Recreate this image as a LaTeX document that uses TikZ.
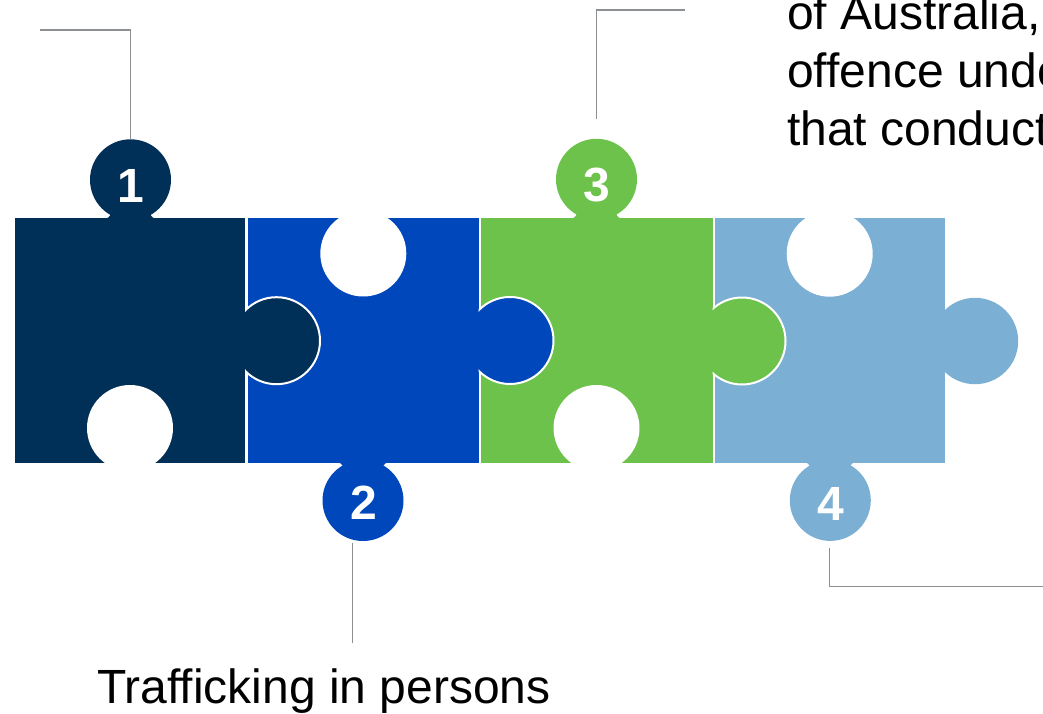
\documentclass[tikz,border=0pt]{standalone}
\usepackage{fontspec}
\setmainfont{Liberation Sans}
\definecolor{navy}{HTML}{003057}
\definecolor{royal}{HTML}{0047BB}
\definecolor{leaf}{HTML}{6CC24A}
\definecolor{sky}{HTML}{7BAFD4}
\definecolor{leader}{HTML}{8D9093}
\tikzset{
  knob/.style={circle, inner sep=0pt, minimum size=81pt, draw=none},
  sideknob/.style={circle, inner sep=0pt, minimum size=87pt, draw=white, line width=2pt},
  hole/.style={circle, inner sep=0pt, minimum size=86pt, fill=white, draw=none},
  num/.style={text=white, font=\bfseries\fontsize{48}{50}\selectfont, inner sep=0pt},
  body/.style={font=\fontsize{48}{57.5}\selectfont, inner sep=0pt, text=black},
  leaderline/.style={draw=leader, line width=1.5pt},
  neck/.pic={\path[pic actions] (-27.5,1) .. controls (-22.5,1) and (-20.5,-1.5) .. (-19.5,-5) -- (19.5,-5) .. controls (20.5,-1.5) and (22.5,1) .. (27.5,1) -- cycle;}
}
\begin{document}
\begin{tikzpicture}[x=1pt,y=-1pt]
\useasboundingbox (0,0) rectangle (1043,714);
\clip (0,0) rectangle (1043,714);
% piece bodies
\fill[navy]  (15,218) rectangle (245,463);
\fill[royal] (247.5,218) rectangle (478.5,463);
\fill[leaf]  (481,218) rectangle (712.5,463);
\fill[sky]   (714.5,218) rectangle (945,463);
% holes
\node[hole] (h1) at (130,428) {};
\node[hole] (h2) at (363.3,253.5) {};
\node[hole] (h3) at (596.5,428) {};
\node[hole] (h4) at (829.7,253.7) {};
% side knobs with white outline
\begin{scope}
  \clip (245,0) rectangle (1043,714);
  \node[sideknob, fill=navy] (s1) at (276.5,340.7) {};
\end{scope}
\begin{scope}
  \clip (478.5,0) rectangle (1043,714);
  \node[sideknob, fill=royal] (s2) at (510,340.5) {};
\end{scope}
\begin{scope}
  \clip (712.5,0) rectangle (1043,714);
  \node[sideknob, fill=leaf] (s3) at (742,341) {};
\end{scope}
\node[knob, minimum size=86.4pt, fill=sky] (s4) at (975,341) {};
% numbered knobs
\pic[fill=navy] at (130.5,218) {neck};
\pic[fill=leaf] at (596.5,218) {neck};
\pic[fill=royal, yscale=-1] at (363,463) {neck};
\pic[fill=sky, yscale=-1] at (830,463) {neck};
\node[knob, fill=navy]  (k1) at (130.5,179.8) {};
\node[knob, fill=royal] (k2) at (363,500.5) {};
\node[knob, fill=leaf]  (k3) at (596.5,179.3) {};
\node[knob, fill=sky]   (k4) at (830.3,500.4) {};
\node[num] (n1) at (130.5,186.3) {1};
\node[num] (n2) at (363.5,502.8) {2};
\node[num] (n3) at (596.5,185.2) {3};
\node[num] (n4) at (830.5,503.5) {4};
% leader lines
\coordinate (e1) at (40,30);
\coordinate (s3a) at (596.7,119);
\coordinate (e3) at (685,10);
\coordinate (s2a) at (352.7,542.7);
\coordinate (e2) at (352.7,642.7);
\coordinate (s4a) at (829.3,548);
\coordinate (e4) at (1044,586.7);
\draw[leaderline] (k1.north) |- (e1);
\draw[leaderline] (s3a) |- (e3);
\draw[leaderline] (s2a) -- (e2);
\draw[leaderline] (s4a) |- (e4);
% texts
\node[body, anchor=base west] (t2) at (97,703) {Trafficking in persons};
\node[body, anchor=base west] (t3a) at (787,30) {of Australia,};
\node[body, anchor=base west] (t3b) at (787,88) {offence unde};
\node[body, anchor=base west] (t3c) at (787,145.5) {that conduct};
\end{tikzpicture}
\end{document}
